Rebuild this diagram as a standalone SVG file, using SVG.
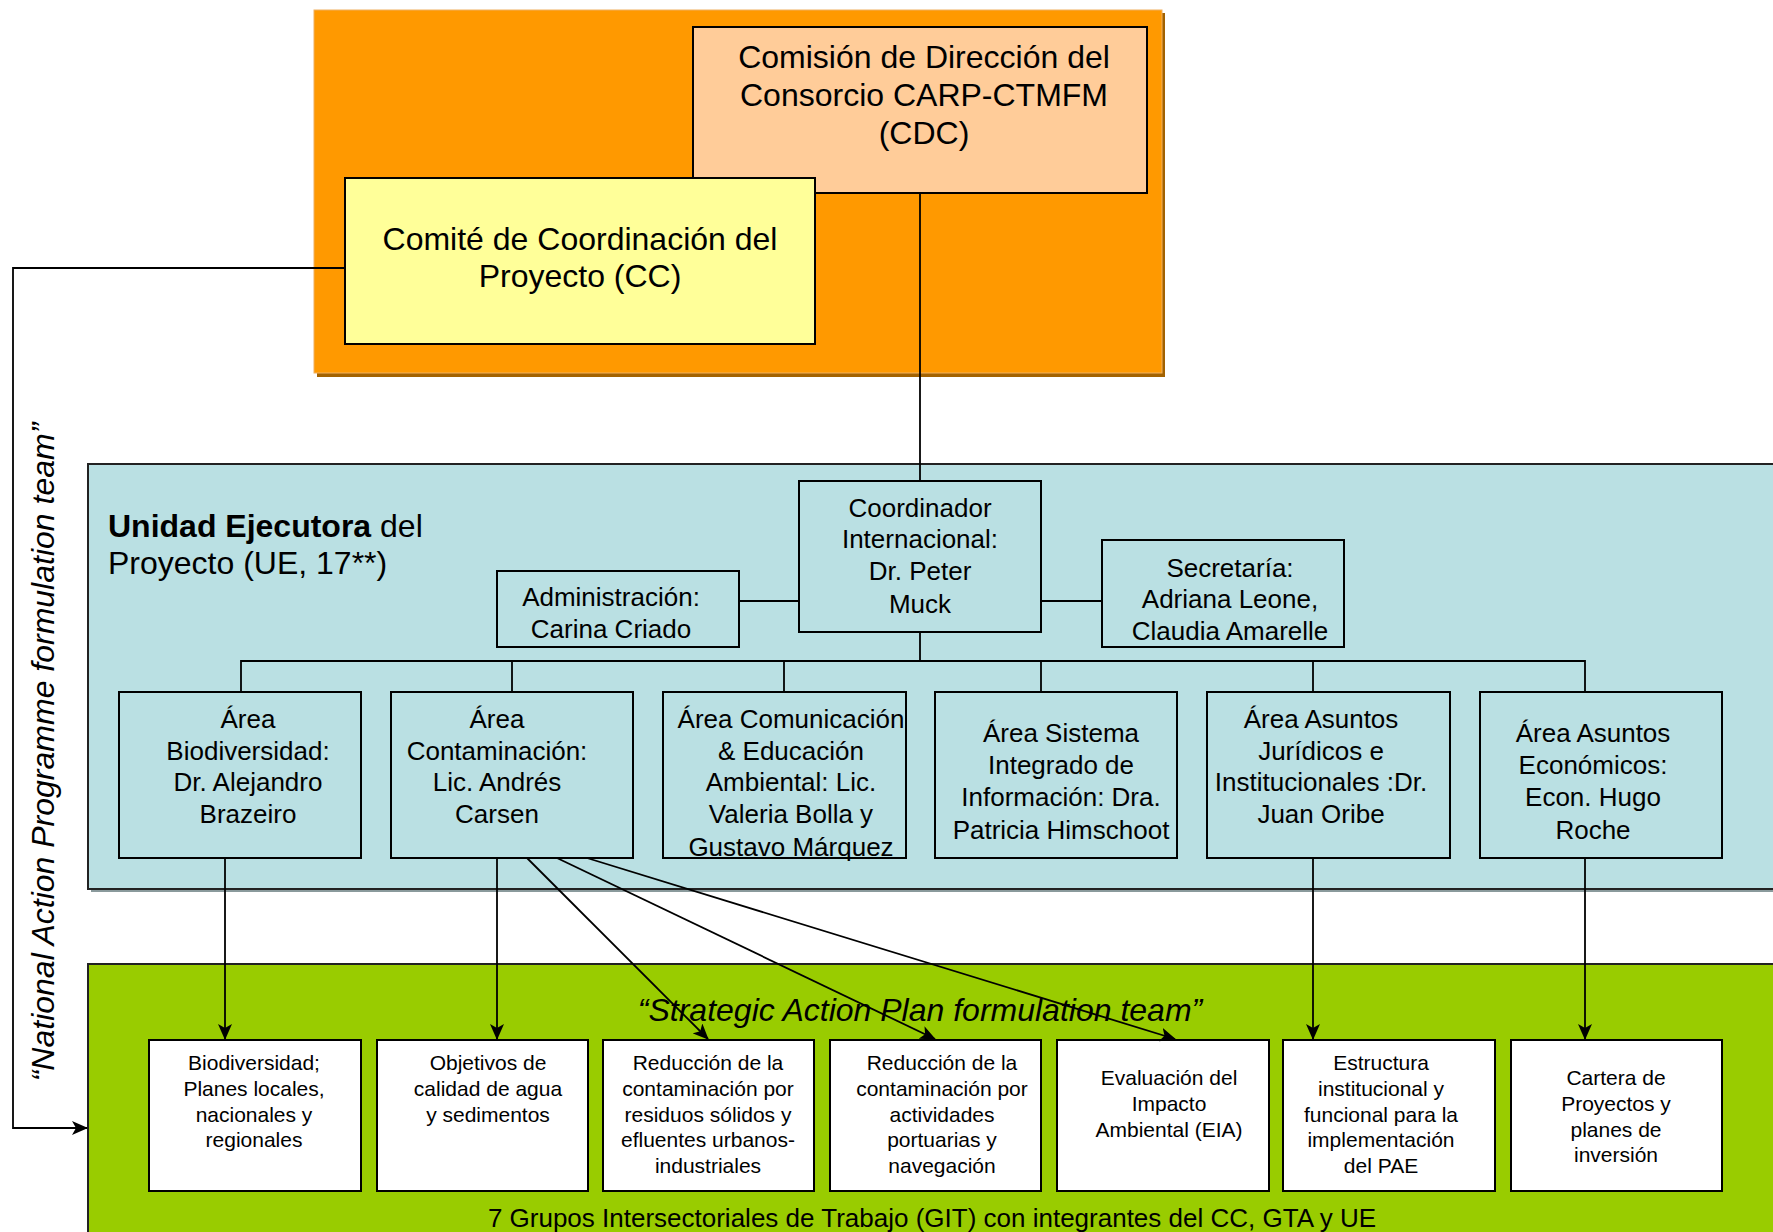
<svg xmlns="http://www.w3.org/2000/svg" width="1773" height="1232" viewBox="0 0 1773 1232">
<style>
text{font-family:"Liberation Sans",Arial,sans-serif;fill:#000;text-anchor:middle}
.t32{font-size:32px}
.t26{font-size:26px}
.t21{font-size:21px}
.box{stroke:#000;stroke-width:2}
.blue{fill:#BAE0E3}
.white{fill:#fff}
.con{fill:none;stroke:#000;stroke-width:1.8}
</style>
<defs>
<marker id="arr" viewBox="0 0 16 14" refX="15" refY="7" markerWidth="16" markerHeight="14" markerUnits="userSpaceOnUse" orient="auto">
<path d="M0,0 L16,7 L0,14 L4,7 Z" fill="#000"/>
</marker>
</defs>
<rect width="1773" height="1232" fill="#fff"/>

<g id="container-orange">
<rect x="317" y="13" width="848" height="364" fill="#A36200"/>
<rect x="314" y="10" width="848" height="363" fill="#FF9900" stroke="#F0B060" stroke-width="1"/>
</g>
<g id="container-ue">
<rect x="91" y="467" width="1690" height="425" fill="#8A9A9C"/>
<rect x="88" y="464" width="1690" height="425" fill="#BAE0E3" stroke="#222" stroke-width="2"/>
<text class="t32" x="108" y="537" style="text-anchor:start"><tspan font-weight="bold">Unidad Ejecutora</tspan> del</text>
<text class="t32" x="108" y="574" style="text-anchor:start">Proyecto (UE, 17**)</text>
</g>
<g id="container-green">
<rect x="88" y="964" width="1690" height="280" fill="#99CC00" stroke="#222" stroke-width="2"/>
<text class="t32" x="920" y="1021" font-style="italic">“Strategic Action Plan formulation team”</text>
<text class="t26" x="932" y="1227">7 Grupos Intersectoriales de Trabajo (GIT) con integrantes del CC, GTA y UE</text>
</g>
<text id="label-napft" class="t32" font-style="italic" transform="translate(54,752) rotate(-90)">“National Action Programme formulation team”</text>

<g id="node-cdc">
<rect class="box" x="693" y="27" width="454" height="166" fill="#FFCC99"/>
<text class="t32" x="924" y="68">Comisión de Dirección del</text>
<text class="t32" x="924" y="106">Consorcio CARP-CTMFM</text>
<text class="t32" x="924" y="144">(CDC)</text>
</g>
<g id="node-cc">
<rect class="box" x="345" y="178" width="470" height="166" fill="#FFFF99"/>
<text class="t32" x="580" y="250">Comité de Coordinación del</text>
<text class="t32" x="580" y="287">Proyecto (CC)</text>
</g>

<g id="node-coord">
<rect class="box blue" x="799" y="481" width="242" height="151"/>
<text class="t26" x="920" y="517">Coordinador</text>
<text class="t26" x="920" y="548">Internacional:</text>
<text class="t26" x="920" y="580">Dr. Peter</text>
<text class="t26" x="920" y="613">Muck</text>
</g>
<g id="node-admin">
<rect class="box blue" x="497" y="571" width="242" height="76"/>
<text class="t26" x="611" y="606">Administración:</text>
<text class="t26" x="611" y="638">Carina Criado</text>
</g>
<g id="node-secre">
<rect class="box blue" x="1102" y="540" width="242" height="107"/>
<text class="t26" x="1230" y="577">Secretaría:</text>
<text class="t26" x="1230" y="608">Adriana Leone,</text>
<text class="t26" x="1230" y="640">Claudia Amarelle</text>
</g>

<g id="node-biodiv">
<rect class="box blue" x="119" y="692" width="242" height="166"/>
<text class="t26" x="248" y="728">Área</text>
<text class="t26" x="248" y="760">Biodiversidad:</text>
<text class="t26" x="248" y="791">Dr. Alejandro</text>
<text class="t26" x="248" y="823">Brazeiro</text>
</g>
<g id="node-contam">
<rect class="box blue" x="391" y="692" width="242" height="166"/>
<text class="t26" x="497" y="728">Área</text>
<text class="t26" x="497" y="760">Contaminación:</text>
<text class="t26" x="497" y="791">Lic. Andrés</text>
<text class="t26" x="497" y="823">Carsen</text>
</g>
<g id="node-comunic">
<rect class="box blue" x="663" y="692" width="243" height="166"/>
<text class="t26" x="791" y="728">Área Comunicación</text>
<text class="t26" x="791" y="760">&amp; Educación</text>
<text class="t26" x="791" y="791">Ambiental: Lic.</text>
<text class="t26" x="791" y="823">Valeria Bolla y</text>
<text class="t26" x="791" y="856">Gustavo Márquez</text>
</g>
<g id="node-sistema">
<rect class="box blue" x="935" y="692" width="242" height="166"/>
<text class="t26" x="1061" y="742">Área Sistema</text>
<text class="t26" x="1061" y="774">Integrado de</text>
<text class="t26" x="1061" y="806">Información: Dra.</text>
<text class="t26" x="1061" y="839">Patricia Himschoot</text>
</g>
<g id="node-juridicos">
<rect class="box blue" x="1207" y="692" width="243" height="166"/>
<text class="t26" x="1321" y="728">Área Asuntos</text>
<text class="t26" x="1321" y="760">Jurídicos e</text>
<text class="t26" x="1321" y="791">Institucionales :Dr.</text>
<text class="t26" x="1321" y="823">Juan Oribe</text>
</g>
<g id="node-economicos">
<rect class="box blue" x="1480" y="692" width="242" height="166"/>
<text class="t26" x="1593" y="742">Área Asuntos</text>
<text class="t26" x="1593" y="774">Económicos:</text>
<text class="t26" x="1593" y="806">Econ. Hugo</text>
<text class="t26" x="1593" y="839">Roche</text>
</g>

<g id="node-git1">
<rect class="box white" x="149" y="1040" width="212" height="151"/>
<text class="t21" x="254" y="1070">Biodiversidad;</text>
<text class="t21" x="254" y="1096">Planes locales,</text>
<text class="t21" x="254" y="1122">nacionales y</text>
<text class="t21" x="254" y="1147">regionales</text>
</g>
<g id="node-git2">
<rect class="box white" x="377" y="1040" width="211" height="151"/>
<text class="t21" x="488" y="1070">Objetivos de</text>
<text class="t21" x="488" y="1096">calidad de agua</text>
<text class="t21" x="488" y="1122">y sedimentos</text>
</g>
<g id="node-git3">
<rect class="box white" x="603" y="1040" width="211" height="151"/>
<text class="t21" x="708" y="1070">Reducción de la</text>
<text class="t21" x="708" y="1096">contaminación por</text>
<text class="t21" x="708" y="1122">residuos sólidos y</text>
<text class="t21" x="708" y="1147">efluentes urbanos-</text>
<text class="t21" x="708" y="1173">industriales</text>
</g>
<g id="node-git4">
<rect class="box white" x="830" y="1040" width="211" height="151"/>
<text class="t21" x="942" y="1070">Reducción de la</text>
<text class="t21" x="942" y="1096">contaminación por</text>
<text class="t21" x="942" y="1122">actividades</text>
<text class="t21" x="942" y="1147">portuarias y</text>
<text class="t21" x="942" y="1173">navegación</text>
</g>
<g id="node-git5">
<rect class="box white" x="1057" y="1040" width="212" height="151"/>
<text class="t21" x="1169" y="1085">Evaluación del</text>
<text class="t21" x="1169" y="1111">Impacto</text>
<text class="t21" x="1169" y="1137">Ambiental (EIA)</text>
</g>
<g id="node-git6">
<rect class="box white" x="1283" y="1040" width="212" height="151"/>
<text class="t21" x="1381" y="1070">Estructura</text>
<text class="t21" x="1381" y="1096">institucional y</text>
<text class="t21" x="1381" y="1122">funcional para la</text>
<text class="t21" x="1381" y="1147">implementación</text>
<text class="t21" x="1381" y="1173">del PAE</text>
</g>
<g id="node-git7">
<rect class="box white" x="1511" y="1040" width="211" height="151"/>
<text class="t21" x="1616" y="1085">Cartera de</text>
<text class="t21" x="1616" y="1111">Proyectos y</text>
<text class="t21" x="1616" y="1137">planes de</text>
<text class="t21" x="1616" y="1162">inversión</text>
</g>

<g id="connectors">
<path class="con" d="M920,193 V481"/>
<path class="con" d="M739,601 H799"/>
<path class="con" d="M1041,601 H1102"/>
<path class="con" d="M920,632 V661"/>
<path class="con" d="M241,692 V661 H1585 V692"/>
<path class="con" d="M512,661 V692"/>
<path class="con" d="M784,661 V692"/>
<path class="con" d="M1041,661 V692"/>
<path class="con" d="M1313,661 V692"/>
<path class="con" d="M345,268 H13 V1128 H87" marker-end="url(#arr)"/>
<path class="con" d="M225,858 V1039" marker-end="url(#arr)"/>
<path class="con" d="M497,858 V1039" marker-end="url(#arr)"/>
<path class="con" d="M527,858 L708,1039" marker-end="url(#arr)"/>
<path class="con" d="M557,858 L935,1039" marker-end="url(#arr)"/>
<path class="con" d="M587,858 L1175,1039" marker-end="url(#arr)"/>
<path class="con" d="M1313,858 V1039" marker-end="url(#arr)"/>
<path class="con" d="M1585,858 V1039" marker-end="url(#arr)"/>
</g>
</svg>
